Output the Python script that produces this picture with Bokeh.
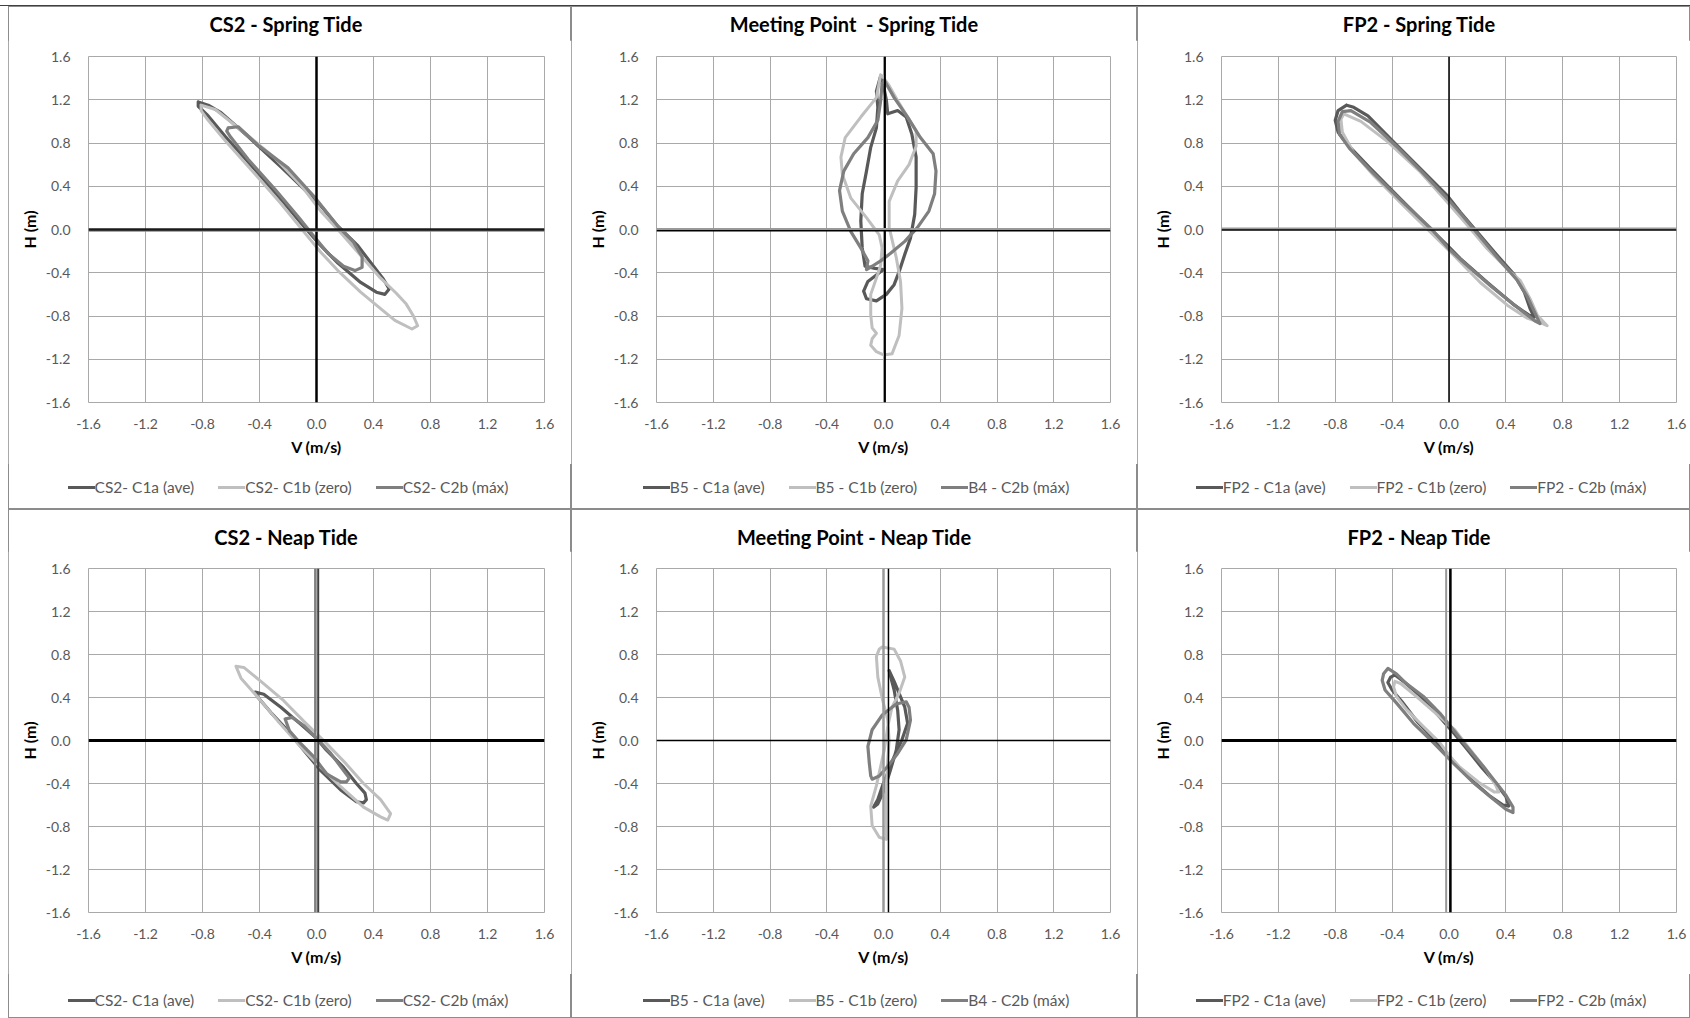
from bokeh.plotting import figure
from bokeh.models import (Range1d, FixedTicker, NumeralTickFormatter, Span, Spacer, Div)
from bokeh.layouts import row, column
from bokeh.embed import file_html
from bokeh.resources import INLINE

# ---------------- data (V in m/s, H in m) ----------------
# CS2 - Spring Tide
cs2_st_c1a_v = [-0.83, -0.76, -0.67, -0.48, -0.25, -0.06, 0.03, 0.15, 0.29, 0.40, 0.47, 0.51, 0.48, 0.42, 0.31, 0.15, 0.03, -0.09, -0.25, -0.43, -0.64, -0.76, -0.83, -0.83]
cs2_st_c1a_h = [1.18, 1.15, 1.08, 0.86, 0.58, 0.34, 0.22, 0.03, -0.15, -0.34, -0.46, -0.55, -0.60, -0.58, -0.49, -0.31, -0.15, 0.03, 0.28, 0.55, 0.86, 1.05, 1.14, 1.18]
cs2_st_c1b_v = [-0.81, -0.71, -0.53, -0.29, -0.11, 0.03, 0.17, 0.31, 0.45, 0.56, 0.63, 0.68, 0.71, 0.67, 0.55, 0.42, 0.31, 0.15, 0.03, -0.09, -0.25, -0.43, -0.64, -0.76, -0.81, -0.81]
cs2_st_c1b_h = [1.15, 1.11, 0.92, 0.66, 0.41, 0.17, -0.03, -0.24, -0.45, -0.59, -0.69, -0.80, -0.89, -0.92, -0.84, -0.70, -0.58, -0.38, -0.21, -0.02, 0.24, 0.51, 0.82, 1.01, 1.10, 1.15]
cs2_st_c2b_v = [-0.62, -0.55, -0.41, -0.20, -0.02, 0.15, 0.26, 0.32, 0.32, 0.27, 0.19, 0.08, -0.02, -0.13, -0.29, -0.48, -0.60, -0.63, -0.62]
cs2_st_c2b_h = [0.94, 0.95, 0.78, 0.57, 0.31, 0.03, -0.12, -0.25, -0.35, -0.38, -0.34, -0.22, -0.06, 0.12, 0.37, 0.65, 0.85, 0.91, 0.94]

# Meeting Point - Spring Tide
mp_st_c1a_v = [-0.02, 0.0, 0.02, 0.03, 0.10, 0.16, 0.20, 0.23, 0.23, 0.22, 0.19, 0.15, 0.11, 0.075, 0.02, -0.05, -0.12, -0.14, -0.11, -0.05, 0.0, -0.06, -0.13, -0.15, -0.16, -0.15, -0.12, -0.09, -0.05, -0.04, -0.05, -0.02]
mp_st_c1a_h = [1.42, 1.33, 1.20, 1.07, 1.10, 1.04, 0.88, 0.67, 0.39, 0.14, -0.08, -0.23, -0.39, -0.51, -0.60, -0.66, -0.64, -0.57, -0.48, -0.42, -0.37, -0.36, -0.34, -0.17, 0.08, 0.33, 0.54, 0.76, 0.94, 1.13, 1.28, 1.42]
mp_st_c1b_v = [-0.02, -0.05, -0.16, -0.27, -0.30, -0.29, -0.23, -0.12, -0.03, -0.01, -0.02, -0.05, -0.09, -0.09, -0.08, -0.05, -0.08, -0.09, -0.05, 0.0, 0.06, 0.11, 0.13, 0.12, 0.09, 0.04, 0.04, 0.10, 0.18, 0.23, 0.23, 0.17, 0.10, 0.04, -0.01, -0.02]
mp_st_c1b_h = [1.43, 1.22, 1.04, 0.85, 0.67, 0.51, 0.29, 0.11, -0.05, -0.17, -0.33, -0.45, -0.60, -0.79, -0.91, -0.96, -1.01, -1.07, -1.13, -1.16, -1.15, -0.98, -0.73, -0.48, -0.26, 0.02, 0.26, 0.45, 0.60, 0.77, 0.91, 1.04, 1.19, 1.33, 1.42, 1.43]
mp_st_c2b_v = [0.005, 0.075, 0.17, 0.26, 0.35, 0.37, 0.36, 0.32, 0.24, 0.15, 0.05, -0.02, -0.08, -0.12, -0.11, -0.16, -0.23, -0.29, -0.31, -0.28, -0.21, -0.11, -0.04, -0.02, -0.01, 0.005]
mp_st_c2b_h = [1.38, 1.22, 1.04, 0.85, 0.70, 0.54, 0.33, 0.17, 0.02, -0.11, -0.22, -0.29, -0.34, -0.37, -0.29, -0.17, -0.02, 0.17, 0.36, 0.54, 0.70, 0.85, 1.01, 1.19, 1.35, 1.38]

# FP2 - Spring Tide
fp2_st_c1a_v = [-0.72, -0.67, -0.57, -0.39, -0.20, -0.01, 0.08, 0.20, 0.34, 0.46, 0.53, 0.57, 0.60, 0.56, 0.46, 0.27, 0.08, -0.01, -0.13, -0.34, -0.55, -0.71, -0.78, -0.80, -0.78, -0.72]
fp2_st_c1a_h = [1.15, 1.13, 1.05, 0.81, 0.56, 0.31, 0.16, -0.025, -0.24, -0.42, -0.58, -0.73, -0.81, -0.79, -0.70, -0.49, -0.27, -0.15, 0.006, 0.28, 0.56, 0.78, 0.90, 1.01, 1.10, 1.15]
fp2_st_c1b_v = [-0.76, -0.74, -0.62, -0.43, -0.20, -0.01, 0.13, 0.27, 0.43, 0.50, 0.57, 0.62, 0.69, 0.64, 0.55, 0.41, 0.22, 0.035, -0.13, -0.32, -0.53, -0.67, -0.75, -0.76]
fp2_st_c1b_h = [1.02, 1.07, 1.0, 0.81, 0.53, 0.25, 0.04, -0.18, -0.39, -0.47, -0.64, -0.79, -0.89, -0.86, -0.82, -0.70, -0.49, -0.24, -0.025, 0.22, 0.50, 0.71, 0.90, 1.02]
fp2_st_c2b_v = [-0.75, -0.69, -0.55, -0.37, -0.18, 0.0, 0.10, 0.22, 0.36, 0.48, 0.55, 0.60, 0.64, 0.61, 0.52, 0.30, 0.10, 0.0, -0.12, -0.33, -0.54, -0.70, -0.77, -0.78, -0.75]
fp2_st_c2b_h = [1.09, 1.10, 0.99, 0.77, 0.52, 0.27, 0.12, -0.07, -0.29, -0.47, -0.62, -0.76, -0.87, -0.85, -0.76, -0.53, -0.30, -0.18, 0.0, 0.26, 0.53, 0.75, 0.88, 1.0, 1.09]

# CS2 - Neap Tide
cs2_nt_c1a_v = [-0.43, -0.37, -0.25, -0.11, -0.007, 0.07, 0.19, 0.28, 0.34, 0.35, 0.33, 0.28, 0.17, 0.03, -0.09, -0.20, -0.32, -0.41, -0.43]
cs2_nt_c1a_h = [0.45, 0.43, 0.31, 0.15, 0.03, -0.09, -0.25, -0.40, -0.49, -0.55, -0.58, -0.57, -0.46, -0.28, -0.09, 0.09, 0.26, 0.40, 0.45]
cs2_nt_c1b_v = [-0.565, -0.51, -0.39, -0.23, -0.09, 0.05, 0.21, 0.33, 0.45, 0.52, 0.50, 0.45, 0.33, 0.17, 0.03, -0.11, -0.27, -0.41, -0.53, -0.565]
cs2_nt_c1b_h = [0.69, 0.68, 0.55, 0.37, 0.18, 0.0, -0.22, -0.40, -0.55, -0.68, -0.74, -0.71, -0.62, -0.43, -0.25, -0.06, 0.18, 0.40, 0.58, 0.69]
cs2_nt_c2b_v = [-0.22, -0.17, -0.09, 0.005, 0.10, 0.19, 0.23, 0.21, 0.17, 0.07, -0.02, -0.11, -0.19, -0.22]
cs2_nt_c2b_h = [0.20, 0.215, 0.14, 0.015, -0.12, -0.28, -0.35, -0.385, -0.385, -0.31, -0.15, -0.03, 0.09, 0.20]

# Meeting Point - Neap Tide
mp_nt_c1a_v = [0.04, 0.075, 0.10, 0.15, 0.17, 0.13, 0.075, 0.03, -0.007, -0.04, -0.07, -0.04, 0.005, 0.05, 0.09, 0.11, 0.10, 0.075, 0.045, 0.04]
mp_nt_c1a_h = [0.65, 0.55, 0.47, 0.31, 0.16, 0.006, -0.15, -0.30, -0.42, -0.55, -0.62, -0.59, -0.46, -0.27, -0.09, 0.10, 0.28, 0.47, 0.62, 0.65]
mp_nt_c1b_v = [-0.01, 0.075, 0.12, 0.15, 0.11, 0.06, 0.03, 0.005, -0.02, -0.05, -0.09, -0.08, -0.03, 0.02, 0.02, 0.02, 0.03, 0.04, 0.03, -0.007, -0.04, -0.05, -0.03, -0.01]
mp_nt_c1b_h = [0.87, 0.85, 0.74, 0.59, 0.44, 0.31, 0.13, -0.09, -0.24, -0.42, -0.61, -0.79, -0.90, -0.92, -0.67, -0.42, -0.18, 0.0, 0.19, 0.38, 0.59, 0.78, 0.85, 0.87]
mp_nt_c2b_v = [-0.09, -0.10, -0.11, -0.08, -0.007, 0.09, 0.16, 0.18, 0.19, 0.16, 0.10, 0.03, -0.03, -0.08, -0.09]
mp_nt_c2b_h = [-0.33, -0.21, -0.055, 0.10, 0.24, 0.34, 0.36, 0.31, 0.19, 0.006, -0.12, -0.24, -0.33, -0.36, -0.33]

# FP2 - Neap Tide
fp2_nt_c1a_v = [-0.41, -0.38, -0.31, -0.20, -0.08, 0.02, 0.12, 0.23, 0.33, 0.40, 0.42, 0.38, 0.29, 0.16, 0.03, -0.09, -0.22, -0.33, -0.40, -0.43, -0.41]
fp2_nt_c1a_h = [0.59, 0.61, 0.54, 0.41, 0.24, 0.09, -0.07, -0.25, -0.40, -0.52, -0.61, -0.60, -0.52, -0.37, -0.20, -0.01, 0.17, 0.36, 0.47, 0.54, 0.59]
fp2_nt_c1b_v = [-0.38, -0.34, -0.23, -0.065, 0.04, 0.14, 0.26, 0.33, 0.35, 0.32, 0.21, 0.07, 0.005, -0.065, -0.18, -0.30, -0.37, -0.39, -0.38]
fp2_nt_c1b_h = [0.55, 0.53, 0.41, 0.22, 0.10, -0.07, -0.27, -0.42, -0.48, -0.48, -0.39, -0.24, -0.145, -0.02, 0.13, 0.29, 0.41, 0.50, 0.55]
fp2_nt_c2b_v = [-0.46, -0.43, -0.37, -0.30, -0.18, -0.065, 0.03, 0.12, 0.24, 0.33, 0.40, 0.45, 0.45, 0.40, 0.31, 0.17, 0.03, -0.11, -0.25, -0.37, -0.45, -0.47, -0.46]
fp2_nt_c2b_h = [0.62, 0.67, 0.62, 0.53, 0.41, 0.255, 0.10, -0.05, -0.24, -0.39, -0.51, -0.62, -0.67, -0.64, -0.545, -0.39, -0.21, -0.02, 0.16, 0.35, 0.47, 0.56, 0.62]

tick_values = [-1.6, -1.2, -0.8, -0.4, 0.0, 0.4, 0.8, 1.2, 1.6]
names_cs2 = ["CS2- C1a (ave)", "CS2- C1b (zero)", "CS2- C2b (máx)"]
names_mp = ["B5 - C1a (ave)", "B5 - C1b (zero)", "B4 - C2b (máx)"]
names_fp2 = ["FP2 - C1a (ave)", "FP2 - C1b (zero)", "FP2 - C2b (máx)"]
titles = ["CS2 - Spring Tide", "Meeting Point  - Spring Tide", "FP2 - Spring Tide",
          "CS2 - Neap Tide", "Meeting Point - Neap Tide", "FP2 - Neap Tide"]

# ---------------- styling ----------------
COLORS = ["#595959", "#bfbfbf", "#7f7f7f"]
WIDTHS = [3.2, 3.0, 3.2]
FONT = "Lato"
GRID = "#a9a9a9"
FIG_BOTTOM = 62


def centered_box(center, total_w):
    half = min(center, total_w - center)
    return center - half, 2 * half


def make_panel(title, names, curves, col, rowgeo, vlines, hlines):
    left, fw, right = col
    top, fh, bottom, title_h, title_pad, leg_pad = rowgeo
    total_w = left + fw + right
    p = figure(frame_width=fw, frame_height=fh,
               min_border_left=left, min_border_right=right,
               min_border_top=top - title_h, min_border_bottom=FIG_BOTTOM,
               x_range=Range1d(-1.6, 1.6), y_range=Range1d(-1.6, 1.6),
               output_backend="svg", toolbar_location=None, tools="",
               background_fill_color="white", border_fill_color="white")

    for ax in (p.xaxis[0], p.yaxis[0]):
        ax.ticker = FixedTicker(ticks=tick_values)
        ax.formatter = NumeralTickFormatter(format="0.0")
        ax.axis_line_color = None
        ax.major_tick_line_color = None
        ax.minor_tick_line_color = None
        ax.major_tick_out = 0
        ax.major_tick_in = 0
        ax.major_label_text_font = FONT
        ax.major_label_text_font_size = "14px"
        ax.major_label_text_color = "#595959"
        ax.axis_label_text_font = FONT
        ax.axis_label_text_font_size = "16px"
        ax.axis_label_text_font_style = "bold"
        ax.axis_label_text_color = "#000000"
    p.xaxis.axis_label = "V (m/s)"
    p.xaxis.major_label_standoff = 16
    p.xaxis.axis_label_standoff = 5
    p.yaxis.axis_label = "H (m)"
    p.yaxis.major_label_standoff = 18
    p.yaxis.axis_label_standoff = 4
    p.grid.grid_line_color = GRID
    p.grid.grid_line_width = 1
    p.outline_line_color = GRID

    for (v, h), c, w in zip(curves, COLORS, WIDTHS):
        p.line(v, h, line_color=c, line_width=w, line_join="round", line_cap="round")

    for loc, c, w in vlines:
        p.add_layout(Span(location=loc, dimension="height", line_color=c, line_width=w))
    for loc, c, w in hlines:
        p.add_layout(Span(location=loc, dimension="width", line_color=c, line_width=w))

    # title (centred on the chart area as in the spreadsheet chart)
    ml, bw = centered_box(left + 198, total_w)
    title_html = ('<div style="margin-left:%dpx;width:%dpx;text-align:center;padding-top:%dpx;'
                  'font-family:Lato;font-weight:bold;font-size:20px;line-height:24px;'
                  'color:#000000;white-space:pre;">%s</div>') % (ml, bw, title_pad, title)
    title_div = Div(text=title_html, width=total_w, height=title_h, margin=(0, 0, 0, 0))

    # legend
    parts = []
    for i, (n, c) in enumerate(zip(names, COLORS)):
        parts.append('<span style="margin-left:%dpx;display:inline-block;width:27px;height:3px;'
                     'background:%s;vertical-align:middle;"></span>'
                     '<span style="vertical-align:middle;">%s</span>' % (0 if i == 0 else 24, c, n))
    ml, bw = centered_box(left + 200, total_w)
    leg_h = bottom - FIG_BOTTOM
    leg_html = ('<div style="margin-left:%dpx;width:%dpx;text-align:center;padding-top:%dpx;'
                'font-family:Lato;font-size:15.5px;line-height:18px;color:#595959;'
                'white-space:nowrap;">%s</div>') % (ml, bw, leg_pad, "".join(parts))
    leg_div = Div(text=leg_html, width=total_w, height=leg_h, margin=(0, 0, 0, 0))

    return column(title_div, p, leg_div, spacing=0,
                  styles={"outline": "1px solid #8c8c8c", "outline-offset": "-1px"})


COL1 = (80, 456, 27)
COL2 = (85, 454, 27)
COL3 = (84, 455, 14)
# top border, frame height, bottom border, title box height, title padding, legend padding
ROW1 = (50, 346, 107, 34, 6, 12)
ROW2 = (59, 344, 106, 42, 16, 15)

f1 = make_panel(titles[0], names_cs2,
                [(cs2_st_c1a_v, cs2_st_c1a_h), (cs2_st_c1b_v, cs2_st_c1b_h), (cs2_st_c2b_v, cs2_st_c2b_h)],
                COL1, ROW1, [(0.0, "#000000", 2.5)], [(-0.012, "#8c8c8c", 2), (0.0, "#1a1a1a", 2.5)])
f2 = make_panel(titles[1], names_mp,
                [(mp_st_c1a_v, mp_st_c1a_h), (mp_st_c1b_v, mp_st_c1b_h), (mp_st_c2b_v, mp_st_c2b_h)],
                COL2, ROW1, [(0.01, "#000000", 2)], [(0.005, "#999999", 2), (-0.012, "#000000", 1.5)])
f3 = make_panel(titles[2], names_fp2,
                [(fp2_st_c1a_v, fp2_st_c1a_h), (fp2_st_c1b_v, fp2_st_c1b_h), (fp2_st_c2b_v, fp2_st_c2b_h)],
                COL3, ROW1, [(0.0, "#000000", 1.5)], [(0.01, "#999999", 2), (-0.005, "#000000", 1.5)])
f4 = make_panel(titles[3], names_cs2,
                [(cs2_nt_c1a_v, cs2_nt_c1a_h), (cs2_nt_c1b_v, cs2_nt_c1b_h), (cs2_nt_c2b_v, cs2_nt_c2b_h)],
                COL1, ROW2, [(-0.01, "#808080", 2), (0.012, "#404040", 2)], [(0.0, "#000000", 3)])
f5 = make_panel(titles[4], names_mp,
                [(mp_nt_c1a_v, mp_nt_c1a_h), (mp_nt_c1b_v, mp_nt_c1b_h), (mp_nt_c2b_v, mp_nt_c2b_h)],
                COL2, ROW2, [(0.0, "#999999", 2.5), (0.035, "#000000", 1.5)], [(0.0, "#000000", 1.5)])
f6 = make_panel(titles[5], names_fp2,
                [(fp2_nt_c1a_v, fp2_nt_c1a_h), (fp2_nt_c1b_v, fp2_nt_c1b_h), (fp2_nt_c2b_v, fp2_nt_c2b_h)],
                COL3, ROW2, [(-0.02, "#999999", 2), (0.01, "#000000", 2.5)], [(0.0, "#000000", 3)])

layout = column(Spacer(width=1690, height=6, styles={"box-shadow": "inset 0 -1px 0 #404040"}),
                row(Spacer(width=8, height=503), f1, f2, f3),
                row(Spacer(width=8, height=509), f4, f5, f6))

open("out.html", "w").write(file_html(layout, INLINE))
